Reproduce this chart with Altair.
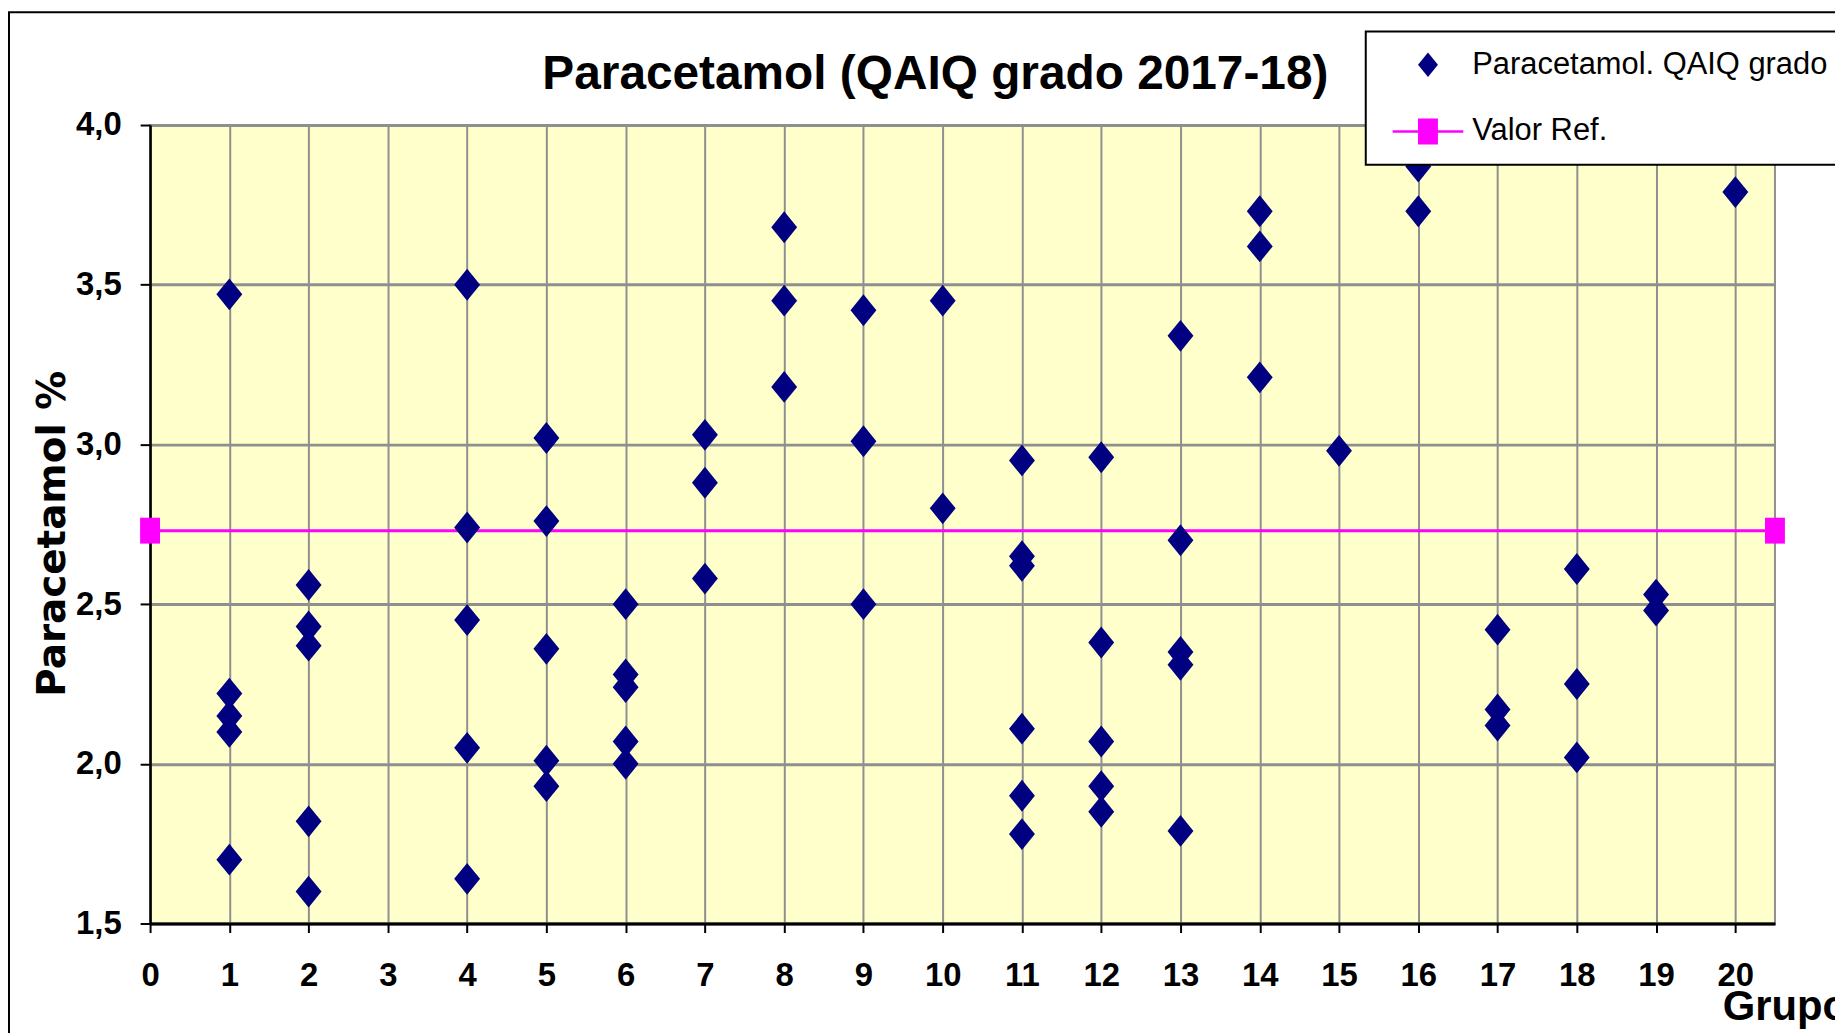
import altair as alt
import pandas as pd

# ---------------- data ----------------
grupo = [1, 1, 1, 1, 1,
         2, 2, 2, 2, 2,
         4, 4, 4, 4, 4,
         5, 5, 5, 5, 5,
         6, 6, 6, 6, 6,
         7, 7, 7,
         8, 8, 8,
         9, 9, 9,
         10, 10,
         11, 11, 11, 11, 11, 11,
         12, 12, 12, 12, 12,
         13, 13, 13, 13, 13,
         14, 14, 14,
         15,
         16, 16,
         17, 17, 17,
         18, 18, 18,
         19, 19,
         20]
valor = [3.47, 2.22, 2.15, 2.10, 1.70,
         2.56, 2.43, 2.37, 1.82, 1.60,
         3.50, 2.74, 2.45, 2.05, 1.64,
         3.02, 2.76, 2.36, 2.01, 1.93,
         2.50, 2.28, 2.24, 2.07, 2.00,
         3.03, 2.88, 2.58,
         3.68, 3.45, 3.18,
         3.42, 3.01, 2.50,
         3.45, 2.80,
         2.95, 2.65, 2.62, 2.11, 1.90, 1.78,
         2.96, 2.38, 2.07, 1.93, 1.85,
         3.34, 2.70, 2.35, 2.31, 1.79,
         3.73, 3.62, 3.21,
         2.98,
         3.87, 3.73,
         2.42, 2.17, 2.12,
         2.61, 2.25, 2.02,
         2.53, 2.48,
         3.79]
ref_grupo = [0, 20.5]
ref_valor = [2.73, 2.73]
x_ticks = list(range(0, 21))
y_ticks = [1.5, 2.0, 2.5, 3.0, 3.5, 4.0]
SERIE_A = "Paracetamol. QAIQ grado"
SERIE_B = "Valor Ref."
TITLE = "Paracetamol (QAIQ grado 2017-18)"

# ---------------- styling ----------------
NAVY = "#000080"
MAGENTA = "#FF00FF"
GRID = "#8f8f8f"
SANS = "'Liberation Sans', Arial, sans-serif"
WIDE = "'DejaVu Sans', sans-serif"
DIAMOND = "M0,-1.23L1,0L0,1.23L-1,0Z"
SQUARE = "M-1,-1.3L1,-1.3L1,1.3L-1,1.3Z"
LINE_SQUARE = ("M-3.55,-0.13L-1,-0.13L-1,-1.3L1,-1.3L1,-0.13L3.55,-0.13L3.55,0.13"
               "L1,0.13L1,1.3L-1,1.3L-1,0.13L-3.55,0.13Z")

W, H = 1632, 802

df = pd.DataFrame({"grupo": grupo, "valor": valor, "serie": [SERIE_A] * len(grupo)})
ref_df = pd.DataFrame({"grupo": ref_grupo, "valor": ref_valor})

xscale = alt.Scale(domain=[0, 20.5], nice=False, zero=False)
yscale = alt.Scale(domain=[1.5, 4.0], nice=False, zero=False)

x_axis = alt.Axis(
    values=x_ticks, format="d", title="Grupo",
    titleX=1579, titleY=96, titleAlign="left", titleBaseline="alphabetic",
    titleFont=SANS, titleFontSize=42, titleFontWeight="bold", titleColor="black",
    labelFont=SANS, labelFontSize=33, labelFontWeight="bold", labelColor="black",
    labelPadding=27, labelFlush=False, labelOverlap=False,
    tickSize=9, tickWidth=2, tickColor="black",
    domainColor="black", domainWidth=3,
    grid=True, gridColor=GRID, gridWidth=2,
)
y_axis = alt.Axis(
    values=y_ticks, title="Paracetamol %",
    labelExpr="replace(format(datum.value, '.1f'), '.', ',')",
    titleFont=WIDE, titleFontSize=39, titleFontWeight="bold", titleColor="black",
    titleAngle=270, titleX=-86, titleY=410, titleAlign="center", titleBaseline="alphabetic",
    labelFont=SANS, labelFontSize=33, labelFontWeight="bold", labelColor="black",
    labelPadding=19, labelFlush=False, labelOverlap=False,
    tickSize=10, tickWidth=2, tickColor="black",
    domainColor="black", domainWidth=2.5,
    grid=True, gridColor=GRID, gridWidth=3,
)

legend = alt.Legend(
    title=None, orient="none", legendX=1221, legendY=-94,
    symbolSize=400, symbolOffset=29, labelOffset=29, rowPadding=35, padding=18,
    labelFont=SANS, labelFontSize=31, labelColor="black", labelLimit=0,
    labelExpr="datum.label + '            '",
    symbolStrokeWidth=0, fillColor="white", strokeColor="black",
)

X = alt.X("grupo:Q", scale=xscale, axis=x_axis)
Y = alt.Y("valor:Q", scale=yscale, axis=y_axis)

border = alt.Chart(pd.DataFrame({"k": [0]})).mark_rect(
    fillOpacity=0, stroke="black", strokeWidth=2
).encode(
    x=alt.value(-141.7), x2=alt.value(2000), y=alt.value(-113.3), y2=alt.value(1100)
)

ref_line = alt.Chart(ref_df).mark_line(color=MAGENTA, strokeWidth=3).encode(x=X, y=Y)
ref_pts = alt.Chart(ref_df).mark_point(
    filled=True, opacity=1, size=400, shape=SQUARE, color=MAGENTA, strokeWidth=0
).encode(x=X, y=Y)

points = alt.Chart(df).mark_point(filled=True, opacity=1, size=676, strokeWidth=0).encode(
    x=X, y=Y,
    color=alt.Color("serie:N", scale=alt.Scale(domain=[SERIE_A, SERIE_B], range=[NAVY, MAGENTA]),
                    legend=legend),
    shape=alt.Shape("serie:N", scale=alt.Scale(domain=[SERIE_A, SERIE_B], range=[DIAMOND, LINE_SQUARE]),
                    legend=legend),
)

chart = alt.layer(border, ref_line, ref_pts, points).properties(
    width=W, height=H,
    autosize=alt.AutoSizeParams(type="none"),
    padding={"left": 142.7, "top": 115.3, "right": 60.3, "bottom": 107.3},
    background="white",
    title=alt.Title(TITLE, anchor="start", frame="group", dx=394, dy=161, offset=35,
                    baseline="alphabetic", font=SANS, fontSize=48, fontWeight="bold",
                    color="black"),
).configure_view(
    fill="#FFFFCC", stroke=GRID, strokeWidth=2
).configure_legend(
    strokeWidth=2
)

chart.save("out.html", embed_options={"renderer": "svg", "actions": False})
